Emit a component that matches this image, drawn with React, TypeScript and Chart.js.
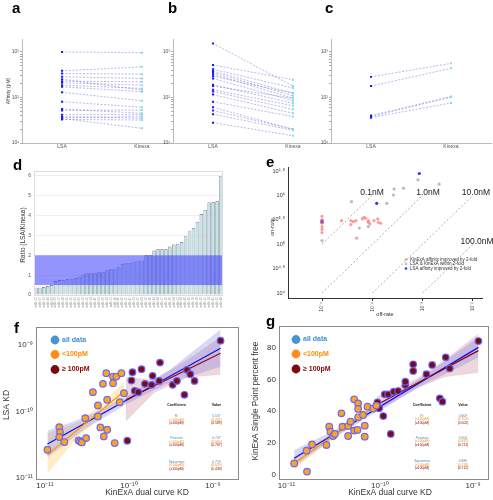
import React, { useEffect, useRef } from "react";
import { Chart, registerables } from "chart.js";

Chart.register(...registerables);

const FONT = "'Liberation Sans', Arial, Helvetica, sans-serif";
Chart.defaults.font.family = FONT;

// ---------------- panels a–c : affinity (pM) ----------------
const GROUPS = ["LSA", "Kinexa"];
const A_LSA = [1000, 385, 337, 285, 253, 229, 211, 187, 172, 130, 81, 56, 52, 42, 38, 36, 34.5, 33];
const A_KIN = [967, 471, 326, 262, 146, 221, 187, 158, 134, 85, 61, 45, 53, 42, 35, 38, 21, 32];
const B_LSA = [1540, 518, 418, 380, 350, 322, 294, 261, 191, 178, 148, 135, 116, 81, 61, 52, 43, 28];
const B_KIN = [178, 246, 162, 124, 109, 96, 124, 85, 75, 96, 66, 55, 45, 38, 20, 20, 19, 14.5];
const C_LSA = [284, 178, 40, 38, 36];
const C_KIN = [562, 437, 105, 102, 76];
const AFFINITY_RANGE = [10, 1930];

// ---------------- panel d : ratio bars ----------------
const D_LABELS = ["mAb-12","mAb-07","mAb-31","mAb-44","mAb-02","mAb-19","mAb-27","mAb-38","mAb-05","mAb-16","mAb-41","mAb-09","mAb-23","mAb-35","mAb-14","mAb-46","mAb-01","mAb-29","mAb-33","mAb-11","mAb-20","mAb-40","mAb-06","mAb-25","mAb-47","mAb-13","mAb-37","mAb-03","mAb-22","mAb-30","mAb-43","mAb-08","mAb-17","mAb-26","mAb-39","mAb-04","mAb-21","mAb-34","mAb-45","mAb-10","mAb-18","mAb-28","mAb-36","mAb-15","mAb-24","mAb-42","mAb-32","mAb-48"];
const D_RATIOS = [0.37,0.37,0.40,0.45,0.50,0.70,0.75,0.76,0.79,0.80,0.84,0.90,1.03,1.10,1.10,1.10,1.15,1.15,1.25,1.30,1.30,1.40,1.57,1.60,1.60,1.68,1.73,1.73,2.00,2.00,2.24,2.30,2.30,2.30,2.44,2.54,2.57,2.67,2.96,3.24,3.36,3.68,4.08,4.29,4.66,4.67,4.72,6.00];
const D_BAND = [0.5, 2];
const D_Y_TICKS = [0, 1, 2, 3, 4, 5, 6];
const D_Y_MAX = 6.25;

// ---------------- panel e : on-rate vs off-rate ----------------
const E_RED_KOFF = [1e-5,1e-5,1e-5,1e-5,1e-5,1e-5,2.44e-5,3.74e-5,3.74e-5,4.17e-5,4.71e-5,6.31e-5,6.81e-5,7.36e-5,8.32e-5,8.32e-5,8.98e-5,1.08e-4,1.28e-4,1.32e-4,1.47e-4,4.86e-5];
const E_RED_KON = [3.72e5,3.14e5,2.69e5,2.30e5,2.02e5,1.73e5,3.04e5,3.04e5,2.52e5,2.90e5,3.04e5,3.29e5,3.56e5,3.40e5,3.04e5,2.81e5,2.60e5,3.04e5,3.29e5,2.81e5,2.69e5,1.33e5];
const E_GREY_KOFF = [1e-5,3.86e-5,5.5e-5,8.32e-5,1.94e-4,2.63e-4,2.71e-4,4.17e-4,8.07e-4,2.12e-3];
const E_GREY_KON = [1.19e5,7.43e5,2.15e5,2.30e5,6.87e5,1.02e6,1.35e6,1.41e6,2.09e6,1.70e6];
const E_BLUE_KOFF = [1e-5,1e-5,1.22e-4,8.57e-4];
const E_BLUE_KON = [3.04e5,2.81e5,6.87e5,2.81e6];
const E_KD = [1e-10, 1e-9, 1e-8, 1e-7];
const E_KD_LABELS = ["0.1nM", "1.0nM", "10.0nM", "100.0nM"];
const E_KOFF_RANGE = [1e-5, 1e-2];
const E_KON_RANGE = [1e4, 1e6];
const E_X_LIMITS = [2.11e-6, 0.0151];
const E_Y_LIMITS = [7907, 3.82e6];
const E_X_TICKS = [1e-5, 1e-4, 1e-3, 1e-2];
const E_X_LABELS = ["10⁻⁵", "10⁻⁴", "10⁻³", "10⁻²"];
const E_Y_TICKS = [1e4, 3.1623e4, 1e5, 3.1623e5, 1e6, 3.1623e6];
const E_Y_LABELS = ["10⁴", "10⁴·⁵", "10⁵", "10⁵·⁵", "10⁶", "10⁶·⁵"];
const E_LEGEND = ["KinExA affinity improved by 2-fold", "LSA & KinExA within 2-fold", "LSA affinity improved by 2-fold"];

// ---------------- panel f : LSA KD vs KinExA KD ----------------
const F_LOW_X = [1.07e-11,1.48e-11,1.51e-11,1.48e-11,1.70e-11,2.51e-11,2.63e-11,2.75e-11,3.09e-11,3.02e-11,3.72e-11,4.27e-11,4.27e-11,4.57e-11,5.01e-11,4.90e-11,5.50e-11,5.50e-11,5.37e-11,6.46e-11,6.46e-11,7.08e-11,6.76e-11,8.13e-11,7.76e-11,8.71e-11];
const F_LOW_Y = [2.66e-11,5.82e-11,4.90e-11,4.12e-11,3.47e-11,3.67e-11,3.55e-11,3.43e-11,3.98e-11,7.94e-11,1.95e-10,1.23e-10,8.41e-11,5.75e-11,4.22e-11,2.60e-10,5.31e-11,1.50e-10,3.76e-10,3.35e-10,2.66e-10,3.35e-10,3.35e-11,3.76e-10,1.38e-10,1.88e-10];
const F_HIGH_X = [9.55e-11,1.10e-10,1.07e-10,1.17e-10,1.29e-10,1.41e-10,1.55e-10,1.86e-10,1.91e-10,2.29e-10,2.34e-10,3.31e-10,3.72e-10,4.57e-10,4.90e-10,5.37e-10,6.03e-10,1.23e-9];
const F_HIGH_Y = [3.63e-11,3.89e-10,2.92e-10,2.04e-10,1.95e-10,4.32e-10,2.60e-10,2.51e-10,3.43e-10,2.88e-10,5.43e-10,2.51e-10,2.88e-10,1.78e-10,4.22e-10,3.63e-10,2.88e-10,1.16e-9];
const F_FIT_ALL_X = [1.07e-11, 1.23e-9];
const F_FIT_ALL_Y = [3.24e-11, 8.91e-10];
const F_FIT_LOW_X = [1.07e-11, 8.71e-11];
const F_FIT_LOW_Y = [2.24e-11, 2.0e-10];
const F_FIT_HIGH_X = [9.2e-11, 1.23e-9];
const F_FIT_HIGH_Y = [1.5e-10, 7.5e-10];
const F_BAND_ALL_X = [1.07e-11, 3.0e-11, 1.0e-10, 3.0e-10, 1.23e-9];
const F_BAND_ALL_LO = [2.04e-11, 5.43e-11, 1.35e-10, 2.69e-10, 4.68e-10];
const F_BAND_ALL_HI = [5.13e-11, 8.22e-11, 1.78e-10, 4.17e-10, 1.70e-9];
const F_BAND_LOW_X = [1.07e-11, 2.5e-11, 5.0e-11, 8.71e-11];
const F_BAND_LOW_LO = [1.17e-11, 4.27e-11, 8.91e-11, 1.45e-10];
const F_BAND_LOW_HI = [4.68e-11, 6.92e-11, 1.41e-10, 2.75e-10];
const F_BAND_HIGH_X = [9.2e-11, 2.0e-10, 5.0e-10, 1.23e-9];
const F_BAND_HIGH_LO = [7.08e-11, 1.91e-10, 3.24e-10, 3.55e-10];
const F_BAND_HIGH_HI = [3.31e-10, 3.02e-10, 6.03e-10, 1.32e-9];
const F_X_LIMITS = [7.82e-12, 2.04e-9];
const F_Y_LIMITS = [9.33e-12, 1.86e-9];
const KD_TICKS = [1e-11, 1e-10, 1e-9];
const KD_LABELS = ["10⁻¹¹", "10⁻¹⁰", "10⁻⁹"];
const F_TABLE_VALUES = ["0.557", "(0.435)", "(0.589)", "0.747", "(0.660)", "(0.767)", "0.719", "(0.659)", "(0.433)"];

// ---------------- panel g : percent free vs KinExA KD ----------------
const G_LOW_X = [1.21e-11,1.66e-11,1.64e-11,1.88e-11,2.68e-11,2.87e-11,2.96e-11,3.16e-11,3.30e-11,3.88e-11,3.98e-11,4.58e-11,4.58e-11,4.85e-11,5.31e-11,5.31e-11,5.77e-11,5.86e-11,5.86e-11,5.86e-11,6.62e-11,6.90e-11,6.90e-11,7.38e-11,8.49e-11,9.2e-11];
const G_LOW_Y = [6.9,1.7,14.9,18.9,18.5,30.1,26.9,24.2,25.5,38.5,30.1,24.2,30.5,33.3,47.4,27.6,28.0,44.8,41.3,36.0,37.5,30.7,23.8,42.7,41.5,43.4];
const G_HIGH_X = [9.44e-11,9.84e-11,1.09e-10,1.13e-10,1.23e-10,1.31e-10,1.41e-10,1.57e-10,1.88e-10,1.88e-10,2.28e-10,2.28e-10,3.16e-10,3.64e-10,4.40e-10,4.69e-10,5.09e-10,5.62e-10,1.14e-9];
const G_HIGH_Y = [45.5,41.7,36.8,50.5,50.5,25.5,52.2,52.6,56.4,58.5,69.5,65.3,63.2,69.1,48.0,45.9,73.9,66.9,84.2];
const G_FIT_ALL_X = [1.21e-11, 1.14e-9];
const G_FIT_ALL_Y = [10.1, 80.2];
const G_FIT_LOW_X = [1.21e-11, 9.2e-11];
const G_FIT_LOW_Y = [6.9, 43.8];
const G_FIT_HIGH_X = [9.2e-11, 1.14e-9];
const G_FIT_HIGH_Y = [43.8, 78.1];
const G_BAND_ALL_X = [1.21e-11, 3.16e-11, 1.0e-10, 3.16e-10, 1.14e-9];
const G_BAND_ALL_LO = [4.8, 22.5, 40.8, 57.5, 73.8];
const G_BAND_ALL_HI = [15.4, 27.3, 44.6, 63.3, 86.6];
const G_BAND_LOW_X = [1.21e-11, 3.16e-11, 9.2e-11];
const G_BAND_LOW_LO = [3.2, 22.6, 40.8];
const G_BAND_LOW_HI = [10.9, 26.2, 46.8];
const G_BAND_HIGH_X = [9.2e-11, 2.51e-10, 5.01e-10, 1.14e-9];
const G_BAND_HIGH_LO = [38.5, 54.5, 61.5, 64.2];
const G_BAND_HIGH_HI = [49.0, 60.5, 72.5, 89.0];
const G_X_LIMITS = [8.32e-12, 1.48e-9];
const G_Y_LIMITS = [-3.6, 93.7];
const G_Y_TICKS = [0, 20, 40, 60, 80];
const G_Y_LABELS = ["0", "20", "40", "60", "80"];
const G_TABLE_VALUES = ["0.809", "(0.701)", "(0.505)", "0.900", "(0.837)", "(0.711)", "0.880", "(0.778)", "(0.712)"];

const LEGEND_LABELS = ["all data", "<100pM", "≥ 100pM"];
const TABLE_HEAD = ["Coefficient", "Value"];
const TABLE_ROWS = ["R²", "(<100pM)", "(≥100pM)", "Pearson", "(<100pM)", "(≥100pM)", "Spearman", "(<100pM)", "(≥100pM)"];

// ---------------- styling ----------------
const COL_ALL = "#3d8fd6";
const COL_LOW = "#ff8c00";
const COL_HIGH = "#8b0000";
const LEGEND_DOTS = ["#4a93d3", "#ff8c1a", "#7d0a0a"];
const ROW_COLORS = [COL_ALL, COL_LOW, COL_HIGH, COL_ALL, COL_LOW, COL_HIGH, COL_ALL, COL_LOW, COL_HIGH];
const ROW_OFFSETS = [11.5, 15, 18.5, 33.5, 37, 40.5, 57, 60.5, 64];
const NO_GRID = { display: false, drawTicks: false, tickLength: 0 };

type Rect = { x: number; y: number; w: number; h: number };
type Area = { l: number; t: number; r: number; b: number };
type TextItem = {
  x: number; y: number; text: string; font: string; color?: string;
  align?: CanvasTextAlign; baseline?: CanvasTextBaseline; rotate?: number;
};

const zip = (xs: number[], ys: number[]) => xs.map((x, i) => ({ x, y: ys[i] }));
const f = (size: number, bold = false) => `${bold ? "bold " : ""}${size}px ${FONT}`;
const SUP: Record<string, string> = { "0": "⁰", "1": "¹", "2": "²", "3": "³", "4": "⁴", "5": "⁵", "6": "⁶", "7": "⁷", "8": "⁸", "9": "⁹", "-": "⁻" };
const powLabel = (v: number) => {
  const l = Math.log10(v);
  if (Math.abs(l - Math.round(l)) > 1e-6) return "";
  return "10" + String(Math.round(l)).split("").map((c) => SUP[c] ?? c).join("");
};

function frame(rect: Rect, area: Area) {
  return {
    padding: { top: area.t - rect.y, right: rect.x + rect.w - area.r, left: 0, bottom: 0 },
    yFit: (s: any) => { s.width = area.l - rect.x; },
    xFit: (s: any) => { s.height = rect.y + rect.h - area.b; },
  };
}

function overlay(rect: Rect, texts: TextItem[], draw?: (chart: any, ctx: CanvasRenderingContext2D) => void) {
  return {
    id: "overlay",
    afterDatasetsDraw(chart: any) {
      if (!draw) return;
      const ctx = chart.ctx as CanvasRenderingContext2D;
      ctx.save();
      draw(chart, ctx);
      ctx.restore();
    },
    afterDraw(chart: any) {
      const ctx = chart.ctx as CanvasRenderingContext2D;
      for (const t of texts) {
        ctx.save();
        ctx.translate(t.x - rect.x, t.y - rect.y);
        if (t.rotate) ctx.rotate(t.rotate);
        ctx.font = t.font;
        ctx.fillStyle = t.color || "#000";
        ctx.textAlign = t.align || "left";
        ctx.textBaseline = t.baseline || "alphabetic";
        ctx.fillText(t.text, 0, 0);
        ctx.restore();
      }
    },
  };
}

function baseOptions(fr: ReturnType<typeof frame>, scales: any) {
  return {
    animation: false,
    responsive: false,
    maintainAspectRatio: false,
    devicePixelRatio: 1,
    events: [],
    layout: { padding: fr.padding, autoPadding: false },
    plugins: { legend: { display: false }, tooltip: { enabled: false }, title: { display: false } },
    scales,
  };
}

const setTicks = (vals: number[]) => (s: any) => { s.ticks = vals.map((value) => ({ value })); };

// ---------------- panel builders ----------------
function pairConfig(rect: Rect, area: Area, lsa: number[], kin: number[], texts: TextItem[]) {
  const fr = frame(rect, area);
  return {
    type: "line",
    data: {
      datasets: lsa.map((v, i) => ({
        data: [{ x: 1, y: v }, { x: 2, y: kin[i] }],
        borderColor: "rgba(95,95,210,0.55)",
        borderWidth: 0.8,
        borderDash: [2, 1.5],
        pointStyle: "rect",
        pointRadius: 1.4,
        pointBorderWidth: 0,
        pointBackgroundColor: ["#1a1aff", "#86dcec"],
        tension: 0,
      })),
    },
    options: baseOptions(fr, {
      x: {
        type: "linear", min: 0.5, max: 2.5, afterFit: fr.xFit, afterBuildTicks: setTicks([1, 2]),
        ticks: { callback: (v: number) => GROUPS[v - 1], font: { size: 5 }, color: "#555", padding: 1, maxRotation: 0 },
        grid: NO_GRID, border: { color: "#bbb" },
      },
      y: {
        type: "logarithmic", min: AFFINITY_RANGE[0], max: AFFINITY_RANGE[1], afterFit: fr.yFit,
        afterBuildTicks: (s: any) => {
          s.ticks = s.ticks.filter((t: any) => {
            const m = t.value / Math.pow(10, Math.floor(Math.log10(t.value) + 1e-9));
            return Math.abs(m - Math.round(m)) < 1e-6;
          });
        },
        ticks: { autoSkip: false, callback: (v: number) => powLabel(v), font: { size: 5 }, color: "#555", padding: 1 },
        grid: { drawOnChartArea: false, tickLength: 2, color: "#aaa" }, border: { color: "#bbb" },
      },
    }),
    plugins: [overlay(rect, texts)],
  };
}

const A_RECT = { x: 0, y: 0, w: 186, h: 158 };
const A_AREA = { l: 22, t: 39, r: 182, b: 143 };
const B_RECT = { x: 150, y: 0, w: 186, h: 158 };
const B_AREA = { l: 173, t: 39, r: 333, b: 143 };
const C_RECT = { x: 308, y: 0, w: 185, h: 158 };
const C_AREA = { l: 331, t: 39, r: 491, b: 143 };
const D_RECT = { x: 0, y: 156, w: 240, h: 162 };
const D_AREA = { l: 34, t: 171, r: 223, b: 295 };
const E_RECT = { x: 240, y: 156, w: 253, h: 162 };
const E_AREA = { l: 288, t: 167, r: 482, b: 298 };
const F_RECT = { x: 0, y: 316, w: 243, h: 184 };
const F_AREA = { l: 36, t: 327, r: 239, b: 480 };
const G_RECT = { x: 243, y: 316, w: 250, h: 184 };
const G_AREA = { l: 279, t: 326, r: 489, b: 480 };

const makeA = () => pairConfig(A_RECT, A_AREA, A_LSA, A_KIN, [
  { x: 12, y: 13, text: "a", font: f(15, true) },
  { x: 9, y: 91, text: "Affinity (pM)", font: f(5), color: "#444", align: "center", baseline: "middle", rotate: -Math.PI / 2 },
]);
const makeB = () => pairConfig(B_RECT, B_AREA, B_LSA, B_KIN, [{ x: 168, y: 13, text: "b", font: f(15, true) }]);
const makeC = () => pairConfig(C_RECT, C_AREA, C_LSA, C_KIN, [{ x: 325, y: 13, text: "c", font: f(15, true) }]);

function makeD() {
  const fr = frame(D_RECT, D_AREA);
  return {
    type: "bar",
    data: {
      labels: D_LABELS,
      datasets: [{
        data: D_RATIOS, backgroundColor: "#c8e3ea", borderColor: "#56656b", borderWidth: 0.6,
        categoryPercentage: 0.9, barPercentage: 1,
      }],
    },
    options: baseOptions(fr, {
      x: {
        afterFit: fr.xFit,
        ticks: { autoSkip: false, minRotation: 90, maxRotation: 90, font: { size: 3 }, color: "#999", padding: 2 },
        grid: NO_GRID, border: { display: false },
      },
      y: {
        min: 0, max: D_Y_MAX, afterFit: fr.yFit, afterBuildTicks: setTicks(D_Y_TICKS),
        ticks: { font: { size: 5 }, color: "#555", padding: 3 },
        grid: { color: "#ebebeb", drawTicks: false, tickLength: 0, lineWidth: 0.8 }, border: { display: false },
      },
    }),
    plugins: [overlay(D_RECT, [
      { x: 13, y: 170, text: "d", font: f(15, true) },
      { x: 23, y: 235, text: "Ratio (LSA/Kinexa)", font: f(6.5), color: "#333", align: "center", baseline: "middle", rotate: -Math.PI / 2 },
    ], (chart, ctx) => {
      const a = chart.chartArea;
      const y = chart.scales.y;
      const top = y.getPixelForValue(D_BAND[1]);
      const bot = y.getPixelForValue(D_BAND[0]);
      ctx.fillStyle = "rgba(60,60,255,0.55)";
      ctx.fillRect(a.left, top, a.right - a.left, bot - top);
      ctx.strokeStyle = "#dcdcdc";
      ctx.lineWidth = 1;
      ctx.strokeRect(a.left + 0.5, a.top + 0.5, a.right - a.left - 1, a.bottom - a.top);
    })],
  };
}

function makeE() {
  const fr = frame(E_RECT, E_AREA);
  const kdLines = E_KD.map((kd) => {
    const x0 = Math.max(E_KOFF_RANGE[0], kd * E_KON_RANGE[0]);
    const x1 = Math.min(E_KOFF_RANGE[1], kd * E_KON_RANGE[1]);
    return {
      type: "line", data: [{ x: x0, y: x0 / kd }, { x: x1, y: x1 / kd }],
      borderColor: "#9a9a9a", borderWidth: 0.8, borderDash: [2, 2], pointRadius: 0, fill: false, order: 5,
    };
  });
  const pts = (xs: number[], ys: number[], color: string) => ({
    type: "scatter", data: zip(xs, ys), pointRadius: 1.6, pointBackgroundColor: color, pointBorderWidth: 0, order: 1,
  });
  const legendColors = ["rgba(248,118,109,0.8)", "rgba(175,175,175,0.85)", "#3434ee"];
  const legendY = [259.5, 264, 268.5];
  return {
    type: "scatter",
    data: {
      datasets: [
        ...kdLines,
        pts(E_GREY_KOFF, E_GREY_KON, "rgba(175,175,175,0.85)"),
        pts(E_RED_KOFF, E_RED_KON, "rgba(248,118,109,0.7)"),
        pts(E_BLUE_KOFF, E_BLUE_KON, "#3434ee"),
      ],
    },
    options: baseOptions(fr, {
      x: {
        type: "logarithmic", min: E_X_LIMITS[0], max: E_X_LIMITS[1], afterFit: fr.xFit, afterBuildTicks: setTicks(E_X_TICKS),
        ticks: { autoSkip: false, callback: (_v: number, i: number) => E_X_LABELS[i], minRotation: 90, maxRotation: 90, font: { size: 5 }, color: "#444", padding: 1 },
        grid: { drawOnChartArea: false, tickLength: 3, color: "#333" }, border: { color: "#333", width: 1 },
      },
      y: {
        type: "logarithmic", min: E_Y_LIMITS[0], max: E_Y_LIMITS[1], afterFit: fr.yFit, afterBuildTicks: setTicks(E_Y_TICKS),
        ticks: { autoSkip: false, callback: (_v: number, i: number) => E_Y_LABELS[i], font: { size: 5.5 }, color: "#333", padding: 3 },
        grid: NO_GRID, border: { color: "#333", width: 1 },
      },
    }),
    plugins: [overlay(E_RECT, [
      { x: 266, y: 167, text: "e", font: f(15, true) },
      { x: 272, y: 227, text: "on-rate", font: f(5.5), color: "#333", align: "center", baseline: "middle", rotate: -Math.PI / 2 },
      { x: 385, y: 314, text: "off-rate", font: f(5.5), color: "#333", align: "center", baseline: "middle" },
      { x: 372, y: 193, text: E_KD_LABELS[0], font: f(8.5), color: "#222", align: "center", baseline: "middle" },
      { x: 428, y: 193, text: E_KD_LABELS[1], font: f(8.5), color: "#222", align: "center", baseline: "middle" },
      { x: 476, y: 193, text: E_KD_LABELS[2], font: f(8.5), color: "#222", align: "center", baseline: "middle" },
      { x: 477, y: 242, text: E_KD_LABELS[3], font: f(8.5), color: "#222", align: "center", baseline: "middle" },
      ...E_LEGEND.map((t, i) => ({ x: 410, y: legendY[i], text: t, font: f(4.5), color: "#333", baseline: "middle" as CanvasTextBaseline })),
    ], (_chart, ctx) => {
      legendColors.forEach((c, i) => {
        ctx.beginPath();
        ctx.arc(406 - E_RECT.x, legendY[i] - E_RECT.y, 1.3, 0, Math.PI * 2);
        ctx.fillStyle = c;
        ctx.fill();
      });
    })],
  };
}

type CorrSpec = {
  rect: Rect; area: Area; letter: TextItem;
  xLim: number[]; yType: string; yLim: number[]; yTicks: number[]; yLabels: string[];
  low: number[][]; high: number[][];
  fitAll: number[][]; fitLow: number[][]; fitHigh: number[][];
  bandAll: number[][]; bandLow: number[][]; bandHigh: number[][];
  yTitle: TextItem; xTitle: TextItem;
  legendX: number; legendY: number[];
  tableX: number[]; tableY: number; values: string[];
};

function corrConfig(s: CorrSpec) {
  const fr = frame(s.rect, s.area);
  const band = (b: number[][], color: string) => [
    { type: "line", data: zip(b[0], b[1]), borderColor: "transparent", borderWidth: 0, pointRadius: 0, fill: false, order: 3 },
    { type: "line", data: zip(b[0], b[2]), borderColor: "transparent", borderWidth: 0, pointRadius: 0, fill: "-1", backgroundColor: color, order: 3 },
  ];
  const fit = (d: number[][], color: string) => ({
    type: "line", data: zip(d[0], d[1]), borderColor: color, borderWidth: 1.3, pointRadius: 0, fill: false, order: 1,
  });
  const pts = (d: number[][], color: string) => ({
    type: "scatter", data: zip(d[0], d[1]), pointRadius: 3.3, pointBackgroundColor: color,
    pointBorderColor: "rgba(100,100,255,0.95)", pointBorderWidth: 1.2, order: 0,
  });
  const texts: TextItem[] = [
    s.letter, s.yTitle, s.xTitle,
    ...LEGEND_LABELS.map((t, i) => ({
      x: s.legendX + 7, y: s.legendY[i], text: t, font: f(7, true),
      color: [COL_ALL, COL_LOW, COL_HIGH][i], baseline: "middle" as CanvasTextBaseline,
    })),
    { x: s.tableX[0], y: s.tableY, text: TABLE_HEAD[0], font: f(3.6, true), color: "#111", align: "center", baseline: "middle" },
    { x: s.tableX[1], y: s.tableY, text: TABLE_HEAD[1], font: f(3.6, true), color: "#111", align: "center", baseline: "middle" },
    ...TABLE_ROWS.map((t, i) => ({
      x: s.tableX[0], y: s.tableY + ROW_OFFSETS[i], text: t, font: f(3.4), color: ROW_COLORS[i],
      align: "center" as CanvasTextAlign, baseline: "middle" as CanvasTextBaseline,
    })),
    ...s.values.map((t, i) => ({
      x: s.tableX[1], y: s.tableY + ROW_OFFSETS[i], text: t, font: f(3.4), color: ROW_COLORS[i],
      align: "center" as CanvasTextAlign, baseline: "middle" as CanvasTextBaseline,
    })),
  ];
  return {
    type: "scatter",
    data: {
      datasets: [
        ...band(s.bandAll, "rgba(110,110,230,0.28)"),
        ...band(s.bandLow, "rgba(255,205,110,0.38)"),
        ...band(s.bandHigh, "rgba(175,70,95,0.22)"),
        fit(s.fitLow, "#ff9a00"),
        fit(s.fitHigh, "#8b0a0a"),
        fit(s.fitAll, "#1010ee"),
        pts(s.low, "#ffa31a"),
        pts(s.high, "#7a0a14"),
      ],
    },
    options: baseOptions(fr, {
      x: {
        type: "logarithmic", min: s.xLim[0], max: s.xLim[1], afterFit: fr.xFit, afterBuildTicks: setTicks(KD_TICKS),
        ticks: { autoSkip: false, callback: (_v: number, i: number) => KD_LABELS[i], font: { size: 8 }, color: "#333", padding: 1, maxRotation: 0 },
        grid: NO_GRID, border: { display: false },
      },
      y: {
        type: s.yType, min: s.yLim[0], max: s.yLim[1], afterFit: fr.yFit, afterBuildTicks: setTicks(s.yTicks),
        ticks: { autoSkip: false, callback: (_v: number, i: number) => s.yLabels[i], font: { size: 8 }, color: "#333", padding: 3 },
        grid: NO_GRID, border: { display: false },
      },
    }),
    plugins: [overlay(s.rect, texts, (chart, ctx) => {
      const a = chart.chartArea;
      ctx.strokeStyle = "#8a8a8a";
      ctx.lineWidth = 1;
      ctx.strokeRect(a.left + 0.5, a.top + 0.5, a.right - a.left - 1, a.bottom - a.top - 1);
      LEGEND_DOTS.forEach((c, i) => {
        ctx.beginPath();
        ctx.arc(s.legendX - s.rect.x, s.legendY[i] - s.rect.y, 4.4, 0, Math.PI * 2);
        ctx.fillStyle = c;
        ctx.fill();
      });
    })],
  };
}

const makeF = () => corrConfig({
  rect: F_RECT, area: F_AREA,
  letter: { x: 14, y: 333, text: "f", font: f(15, true) },
  xLim: F_X_LIMITS, yType: "logarithmic", yLim: F_Y_LIMITS, yTicks: KD_TICKS, yLabels: KD_LABELS,
  low: [F_LOW_X, F_LOW_Y], high: [F_HIGH_X, F_HIGH_Y],
  fitAll: [F_FIT_ALL_X, F_FIT_ALL_Y], fitLow: [F_FIT_LOW_X, F_FIT_LOW_Y], fitHigh: [F_FIT_HIGH_X, F_FIT_HIGH_Y],
  bandAll: [F_BAND_ALL_X, F_BAND_ALL_LO, F_BAND_ALL_HI],
  bandLow: [F_BAND_LOW_X, F_BAND_LOW_LO, F_BAND_LOW_HI],
  bandHigh: [F_BAND_HIGH_X, F_BAND_HIGH_LO, F_BAND_HIGH_HI],
  yTitle: { x: 7, y: 405, text: "LSA KD", font: f(8.5), color: "#333", align: "center", baseline: "middle", rotate: -Math.PI / 2 },
  xTitle: { x: 147, y: 493, text: "KinExA dual curve KD", font: f(8.5), color: "#333", align: "center", baseline: "middle" },
  legendX: 55, legendY: [340, 354.5, 369.5],
  tableX: [176.5, 216.5], tableY: 405, values: F_TABLE_VALUES,
});

const makeG = () => corrConfig({
  rect: G_RECT, area: G_AREA,
  letter: { x: 266, y: 326, text: "g", font: f(15, true) },
  xLim: G_X_LIMITS, yType: "linear", yLim: G_Y_LIMITS, yTicks: G_Y_TICKS, yLabels: G_Y_LABELS,
  low: [G_LOW_X, G_LOW_Y], high: [G_HIGH_X, G_HIGH_Y],
  fitAll: [G_FIT_ALL_X, G_FIT_ALL_Y], fitLow: [G_FIT_LOW_X, G_FIT_LOW_Y], fitHigh: [G_FIT_HIGH_X, G_FIT_HIGH_Y],
  bandAll: [G_BAND_ALL_X, G_BAND_ALL_LO, G_BAND_ALL_HI],
  bandLow: [G_BAND_LOW_X, G_BAND_LOW_LO, G_BAND_LOW_HI],
  bandHigh: [G_BAND_HIGH_X, G_BAND_HIGH_LO, G_BAND_HIGH_HI],
  yTitle: { x: 256, y: 401, text: "KinExA Single Point percent free", font: f(8.2), color: "#333", align: "center", baseline: "middle", rotate: -Math.PI / 2 },
  xTitle: { x: 390, y: 493, text: "KinExA dual curve KD", font: f(8.5), color: "#333", align: "center", baseline: "middle" },
  legendX: 296, legendY: [339.5, 354, 369],
  tableX: [422, 463], tableY: 404.5, values: G_TABLE_VALUES,
});

function ChartCanvas({ rect, make }: { rect: Rect; make: () => any }) {
  const ref = useRef<HTMLCanvasElement | null>(null);
  useEffect(() => {
    if (!ref.current) return;
    const chart = new Chart(ref.current, make());
    return () => chart.destroy();
  }, []);
  return (
    <canvas
      ref={ref}
      width={rect.w}
      height={rect.h}
      style={{ position: "absolute", left: rect.x, top: rect.y, width: rect.w, height: rect.h }}
    />
  );
}

export default function App() {
  return (
    <div style={{ position: "absolute", left: 0, top: 0, width: 493, height: 500, background: "#fff", overflow: "hidden" }}>
      <ChartCanvas rect={A_RECT} make={makeA} />
      <ChartCanvas rect={B_RECT} make={makeB} />
      <ChartCanvas rect={C_RECT} make={makeC} />
      <ChartCanvas rect={D_RECT} make={makeD} />
      <ChartCanvas rect={E_RECT} make={makeE} />
      <ChartCanvas rect={F_RECT} make={makeF} />
      <ChartCanvas rect={G_RECT} make={makeG} />
    </div>
  );
}
